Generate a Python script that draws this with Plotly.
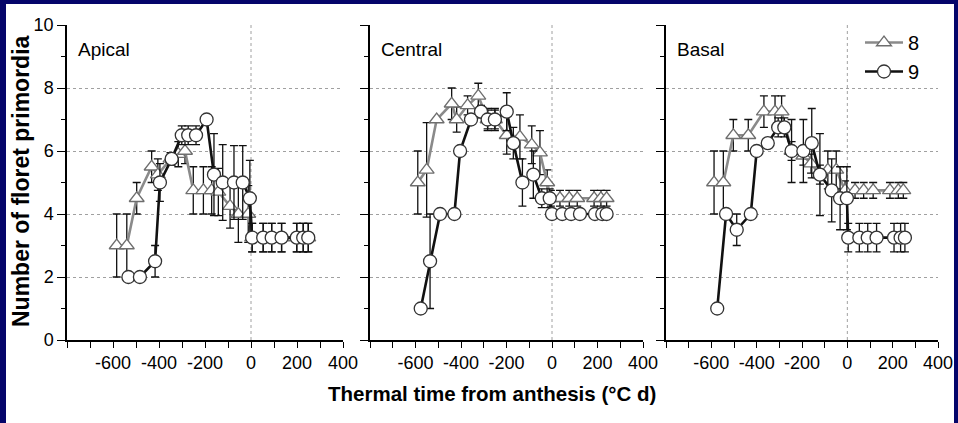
import plotly.graph_objects as go

# ---------------- data ----------------
panel_names = ["Apical", "Central", "Basal"]
series_names = ["8", "9"]

apical_8_x = [-584, -540, -497, -432, -405, -350, -316, -287, -251, -207, -171, -142, -91, -55, -12, 5, 53, 90, 133, 199, 227, 249]
apical_8_y = [3.0, 3.0, 4.5, 5.5, 5.25, 5.75, 5.9, 6.0, 4.75, 4.75, 4.75, 4.7, 4.25, 4.0, 4.0, 3.25, 3.25, 3.25, 3.25, 3.25, 3.25, 3.25]
apical_8_e = [1.0, 1.0, 0.5, 0.5, 0.5, 0.2, 0.4, 0.4, 0.75, 0.75, 0.75, 0.75, 0.7, 0.9, 0.9, 0.45, 0.45, 0.45, 0.45, 0.45, 0.45, 0.45]

apical_9_x = [-533, -483, -417, -396, -345, -301, -273, -239, -193, -161, -123, -74, -36, -5, 5, 53, 90, 133, 199, 227, 249]
apical_9_y = [2.0, 2.0, 2.5, 5.0, 5.75, 6.5, 6.5, 6.5, 7.0, 5.25, 5.0, 5.0, 5.0, 4.5, 3.25, 3.25, 3.25, 3.25, 3.25, 3.25, 3.25]
apical_9_e = [0, 0, 0.5, 0.6, 0.2, 0.3, 0.3, 0.3, 0, 1.3, 1.2, 1.17, 1.17, 1.2, 0.45, 0.45, 0.45, 0.45, 0.45, 0.45, 0.45]

central_8_x = [-590, -551, -507, -441, -419, -371, -324, -283, -251, -199, -141, -89, -53, -21, -5, 35, 76, 111, 185, 215, 240]
central_8_y = [5.0, 5.4, 7.0, 7.5, 7.0, 7.45, 7.75, 7.0, 7.0, 6.5, 6.45, 6.2, 5.95, 5.0, 4.5, 4.5, 4.5, 4.5, 4.5, 4.5, 4.5]
central_8_e = [1.0, 1.5, 0, 0.5, 0.4, 0.3, 0.4, 0.3, 0.3, 0.6, 0.7, 0.6, 0.7, 0.4, 0.25, 0.25, 0.25, 0.25, 0.25, 0.25, 0.25]

central_9_x = [-577, -536, -492, -429, -404, -356, -312, -283, -251, -199, -170, -130, -82, -45, -10, 0, 45, 84, 123, 189, 221, 240]
central_9_y = [1.0, 2.5, 4.0, 4.0, 6.0, 7.0, 7.25, 7.0, 7.0, 7.25, 6.25, 5.0, 5.25, 4.5, 4.5, 4.0, 4.0, 4.0, 4.0, 4.0, 4.0, 4.0]
central_9_e = [0, 1.5, 0, 0, 0, 0, 0.2, 0.35, 0.35, 0.6, 0.5, 0.75, 0.75, 0.3, 0.3, 0, 0, 0, 0, 0, 0, 0]

basal_8_x = [-588, -547, -503, -437, -368, -319, -290, -246, -194, -160, -121, -86, -49, -10, 34, 72, 114, 188, 225, 247]
basal_8_y = [5.0, 5.0, 6.5, 6.5, 7.25, 7.25, 7.25, 6.0, 5.85, 5.6, 5.25, 5.4, 5.4, 4.75, 4.75, 4.75, 4.75, 4.75, 4.75, 4.75]
basal_8_e = [1.0, 1.0, 0.5, 0.5, 0.5, 0.5, 0.5, 0.3, 0.3, 0.3, 0.3, 0.6, 0.6, 0.3, 0.25, 0.25, 0.25, 0.25, 0.25, 0.25]

basal_9_x = [-574, -535, -488, -426, -400, -351, -305, -278, -246, -194, -157, -121, -69, -32, -2, 4, 53, 90, 129, 206, 235, 254]
basal_9_y = [1.0, 4.0, 3.5, 4.0, 6.0, 6.25, 6.75, 6.75, 6.0, 6.0, 6.25, 5.25, 4.75, 4.5, 4.5, 3.25, 3.25, 3.25, 3.25, 3.25, 3.25, 3.25]
basal_9_e = [0, 0, 0.5, 0, 0, 0, 0.3, 0.3, 1.0, 1.0, 1.1, 1.3, 1.0, 1.0, 1.0, 0.45, 0.45, 0.45, 0.45, 0.45, 0.45, 0.45]

x_tickvals = [-800, -700, -600, -500, -400, -300, -200, -100, 0, 100, 200, 300, 400]
x_ticktext = ["", "", "-600", "", "-400", "", "-200", "", "0", "", "200", "", "400"]
y_tickvals = [0, 2, 4, 6, 8, 10]

x_title = "Thermal time from anthesis (°C d)"
y_title = "Number of floret primordia"

# ---------------- layout geometry (pixels) ----------------
W, H = 958, 423
def px(v):
    return v / W
def py(v):
    return 1 - v / H

x_domains = [[px(67), px(343)], [px(370), px(643)], [px(666), px(938)]]
y_domain = [py(340), py(25)]

FONT = "Liberation Sans, Arial, sans-serif"
GRAY_LINE = "#8a8a8a"
GRAY_MARK = "#6e6e6e"
BLACK = "#111111"

fig = go.Figure()

panels = [
    (apical_8_x, apical_8_y, apical_8_e, apical_9_x, apical_9_y, apical_9_e),
    (central_8_x, central_8_y, central_8_e, central_9_x, central_9_y, central_9_e),
    (basal_8_x, basal_8_y, basal_8_e, basal_9_x, basal_9_y, basal_9_e),
]

for i, (x8, y8, e8, x9, y9, e9) in enumerate(panels):
    xa = "x" if i == 0 else f"x{i+1}"
    ya = "y" if i == 0 else f"y{i+1}"
    fig.add_trace(go.Scatter(
        x=x8, y=y8, mode="lines+markers", name=series_names[0],
        xaxis=xa, yaxis=ya, legendgroup="s8", showlegend=(i == 0),
        line=dict(color=GRAY_LINE, width=2.6),
        marker=dict(symbol="triangle-up", size=13, color="white",
                    line=dict(color=GRAY_MARK, width=1.3)),
        error_y=dict(type="data", array=e8, visible=True, color=BLACK, thickness=1.3, width=4),
    ))
    fig.add_trace(go.Scatter(
        x=x9, y=y9, mode="lines+markers", name=series_names[1],
        xaxis=xa, yaxis=ya, legendgroup="s9", showlegend=(i == 0),
        line=dict(color=BLACK, width=2.6),
        marker=dict(symbol="circle", size=13, color="white",
                    line=dict(color="#333333", width=1.3)),
        error_y=dict(type="data", array=e9, visible=True, color=BLACK, thickness=1.3, width=4),
    ))

layout = dict(
    width=W, height=H, autosize=False,
    margin=dict(l=0, r=0, t=0, b=0, pad=0, autoexpand=False),
    paper_bgcolor="#05056a",
    plot_bgcolor="rgba(0,0,0,0)",
    font=dict(family=FONT, color="black", size=18),
    legend=dict(x=px(860), y=py(23), xanchor="left", yanchor="top",
                bgcolor="rgba(0,0,0,0)", font=dict(size=20, family=FONT),
                traceorder="grouped", tracegroupgap=0, itemwidth=38),
    shapes=[dict(type="rect", xref="paper", yref="paper",
                 x0=px(6), x1=px(954), y0=0, y1=py(4),
                 fillcolor="white", line=dict(width=0), layer="below")],
    annotations=[],
)

for i in range(3):
    xk = "xaxis" if i == 0 else f"xaxis{i+1}"
    yk = "yaxis" if i == 0 else f"yaxis{i+1}"
    ya = "y" if i == 0 else f"y{i+1}"
    xa = "x" if i == 0 else f"x{i+1}"
    layout[xk] = dict(
        domain=x_domains[i], anchor=ya, range=[-800, 400], automargin=False,
        tickmode="array", tickvals=x_tickvals, ticktext=x_ticktext,
        ticks="outside", ticklen=6, tickwidth=1.3, tickcolor="black",
        showline=True, linecolor="black", linewidth=1.5,
        showgrid=False, zeroline=False,
        tickfont=dict(size=18, family=FONT, color="black"),
        fixedrange=True,
    )
    layout[yk] = dict(
        domain=y_domain, anchor=xa, range=[0, 10], automargin=False,
        tickmode="array", tickvals=y_tickvals,
        ticks="outside", ticklen=8, tickwidth=1.3, tickcolor="black",
        minor=dict(dtick=1, tick0=0, ticks="outside", ticklen=4, tickwidth=1.3,
                   tickcolor="black", showgrid=False),
        showline=True, linecolor="black", linewidth=1.5,
        showgrid=True, gridcolor="#a0a0a0", griddash="dot", gridwidth=1,
        zeroline=False, showticklabels=(i == 0),
        tickfont=dict(size=18, family=FONT, color="black"),
        fixedrange=True,
    )
    layout["shapes"].append(dict(
        type="line", xref=xa, yref=f"{ya} domain", x0=0, x1=0, y0=0, y1=1,
        line=dict(color="#a0a0a0", width=1, dash="dot"), layer="below"))
    layout["annotations"].append(dict(
        text=panel_names[i], xref="paper", yref="paper",
        x=x_domains[i][0] + px(9), y=py(49), xanchor="left", yanchor="middle",
        showarrow=False, font=dict(size=19, family=FONT, color="black")))

layout["annotations"].append(dict(
    text=f"<b>{x_title}</b>", xref="paper", yref="paper",
    x=px(492), y=py(393), xanchor="center", yanchor="middle",
    showarrow=False, font=dict(size=20.5, family=FONT, color="black")))
layout["annotations"].append(dict(
    text=f"<b>{y_title}</b>", xref="paper", yref="paper",
    x=px(21), y=py(181), xanchor="center", yanchor="middle", textangle=-90,
    showarrow=False, font=dict(size=23, family=FONT, color="black")))

fig.update_layout(**layout)
fig.write_html("out.html")
